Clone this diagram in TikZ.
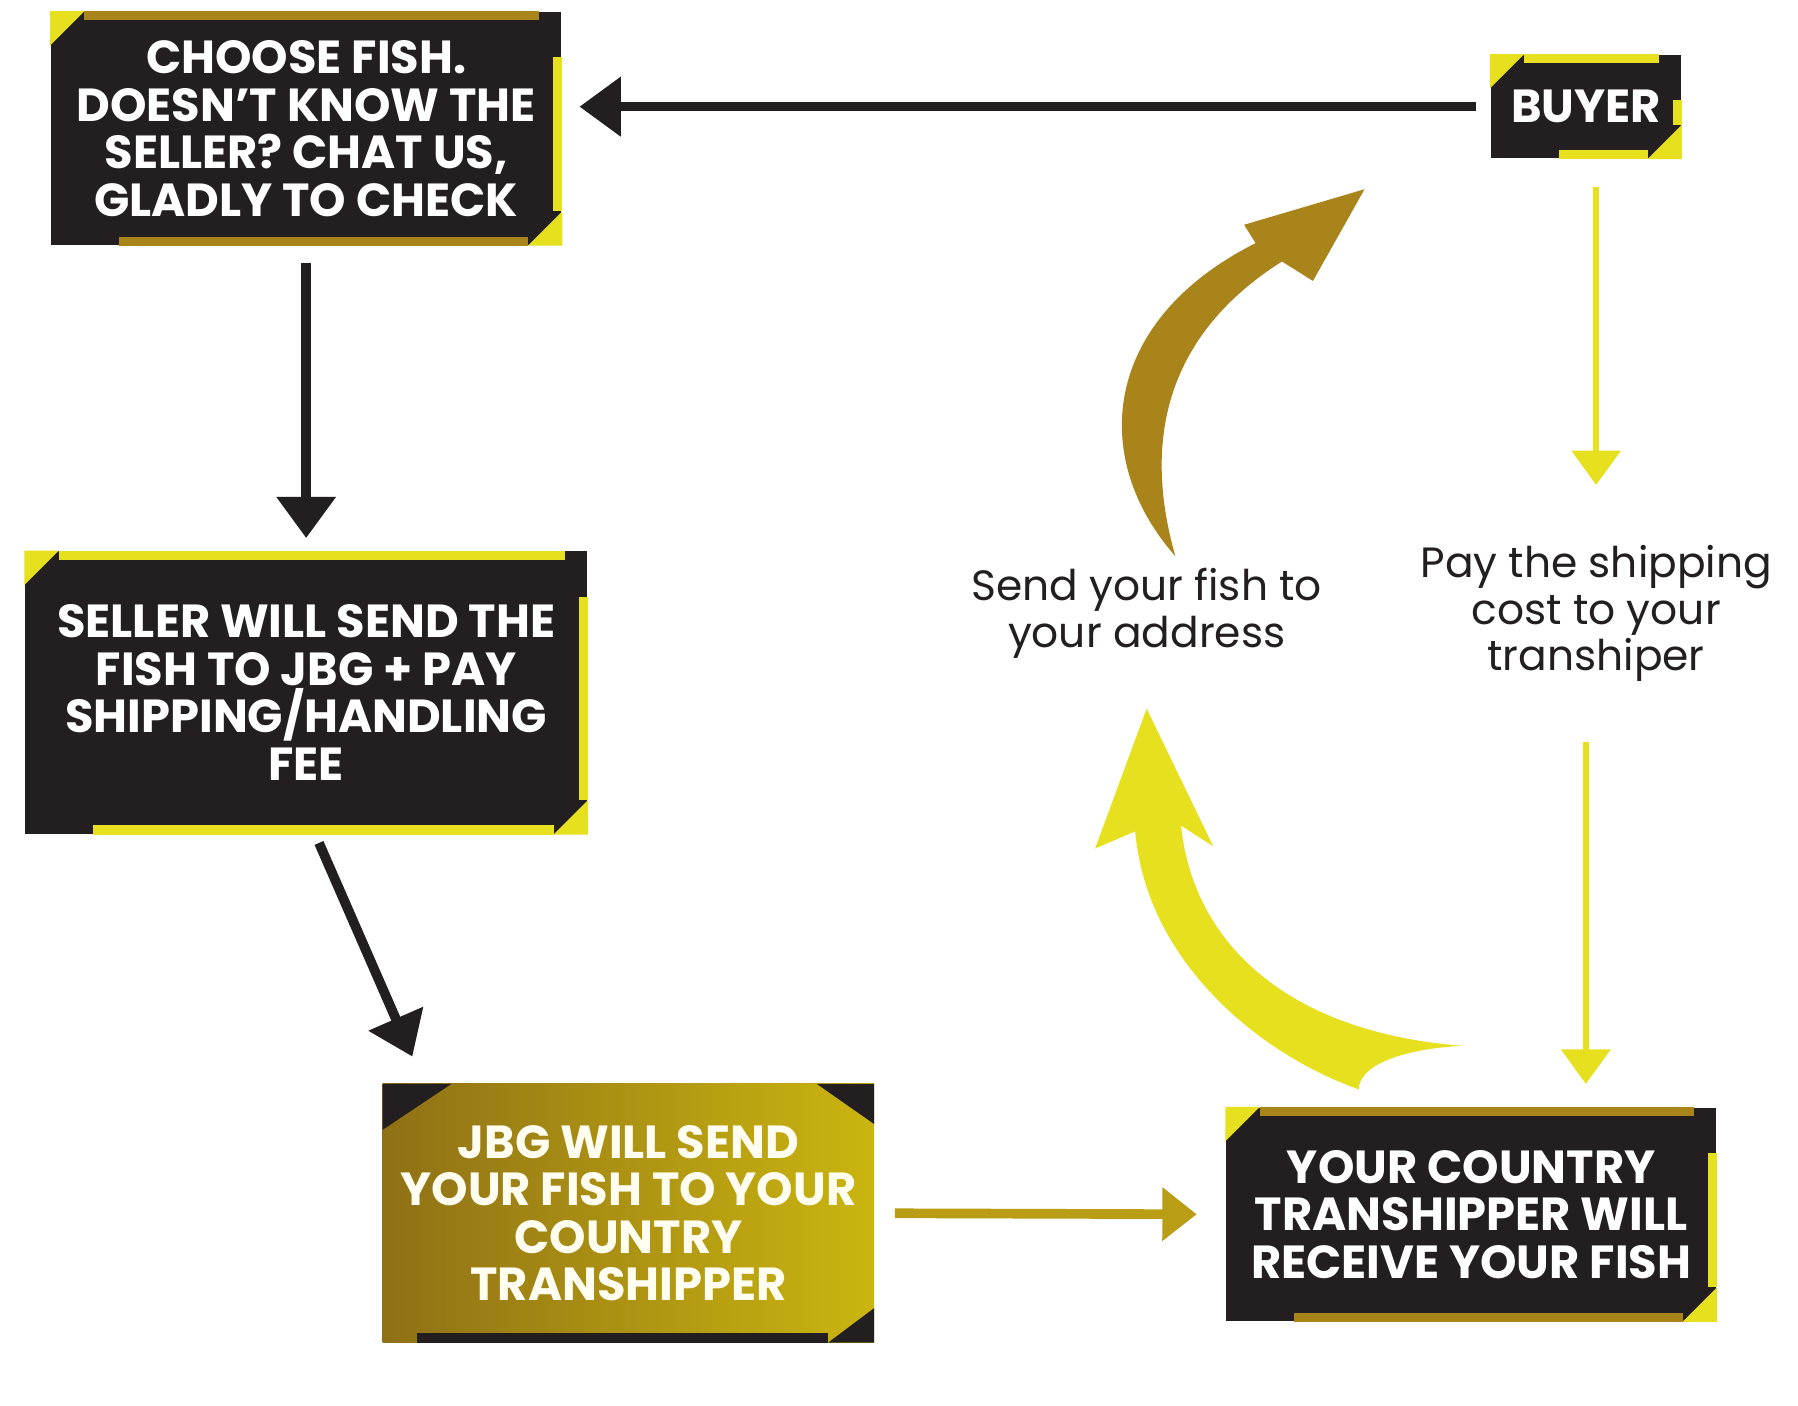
\documentclass[tikz,border=0pt]{standalone}
\usepackage{fontspec}
\setmainfont{Poppins}
\usetikzlibrary{arrows.meta}
\definecolor{fishblack}{HTML}{231F20}
\definecolor{fishyellow}{HTML}{E6E01F}
\definecolor{fishgold}{HTML}{A8841A}
\tikzset{
  fishstep/.style = {fill=fishblack, text=white, align=center, inner sep=0pt,
    font=\fontsize{11.5}{11.8}\selectfont\bfseries},
  note/.style = {align=center, text=fishblack, font=\fontsize{10.5}{11.6}\selectfont},
  flow/.style = {line width=2.4pt, draw=fishblack, -{Triangle[length=0.36cm,width=0.5cm]}},
  lightflow/.style = {line width=1.6pt, draw=fishyellow, -{Triangle[length=0.3cm,width=0.42cm]}}
}
% corner marks of a step box
\newcommand{\boxcorners}[2]{
  \fill [fishyellow] (#1.north west) -- ++(30,0) -- ++(-30,30) -- cycle;
  \fill [#2] ([shift={(30,0)}]#1.north west) rectangle ([shift={(-20,8)}]#1.north east);
  \fill [fishyellow] (#1.south east) -- ++(-30,0) -- ++(30,-30) -- cycle;
  \fill [#2] ([shift={(-30,0)}]#1.south east) rectangle ([shift={(60,-8)}]#1.south west);
  \fill [fishyellow] ([shift={(0,40)}]#1.north east) rectangle ([shift={(-8,-30)}]#1.south east);
}
\begin{document}
\begin{tikzpicture}[x=0.01cm, y=-0.01cm]
	\useasboundingbox [fill=white] (0,0) rectangle (1568,1226);

	\node [fishstep, minimum width=4.45cm, minimum height=2.03cm] (choose) at (267,112)
		{CHOOSE FISH.\\DOESN’T KNOW THE\\SELLER? CHAT US,\\GLADLY TO CHECK};
	\boxcorners{choose}{fishgold}
	\node [fishstep, minimum width=1.66cm, minimum height=0.9cm] (buyer) at (1383,93) {BUYER};
	\boxcorners{buyer}{fishyellow}
	\node [fishstep, minimum width=4.9cm, minimum height=2.46cm] (seller) at (267,604)
		{SELLER WILL SEND THE\\FISH TO JBG + PAY\\SHIPPING/HANDLING\\FEE};
	\boxcorners{seller}{fishyellow}
	\node [fishstep, fill=none, minimum width=4.27cm, minimum height=2.24cm] (jbg) at (548,1058) {};
	\shade [left color=fishgold!85!black, right color=fishgold!60!yellow] (jbg.south west) rectangle (jbg.north east);
	\fill [fishblack] (jbg.north west) -- ++(60,0) -- ++(-60,40) -- cycle;
	\fill [fishblack] (jbg.north east) -- ++(-50,0) -- ++(50,35) -- cycle;
	\fill [fishblack] (jbg.south east) -- ++(-40,0) -- ++(40,-30) -- cycle;
	\fill [fishblack] ([shift={(30,0)}]jbg.south west) rectangle ([shift={(-40,-8)}]jbg.south east);
	\node [fishstep, fill=none, text=white!94!yellow] at (jbg) {JBG WILL SEND\\YOUR FISH TO YOUR\\COUNTRY\\TRANSHIPPER};
	\node [fishstep, minimum width=4.27cm, minimum height=1.86cm] (country) at (1283,1059)
		{YOUR COUNTRY\\TRANSHIPPER WILL\\RECEIVE YOUR FISH};
	\boxcorners{country}{fishgold}

	\node [note] (send) at (1000,535) {Send your fish to\\your address};
	\node [note] (pay) at (1392,535) {Pay the shipping\\cost to your\\transhiper};

	\draw [flow, shorten <=0.12cm, shorten >=0.15cm] (buyer.west) -- (buyer.west -| choose.east);
	\draw [flow, shorten <=0.15cm, shorten >=0.11cm] (choose.south) -- (seller.north);
	\draw [flow, shorten <=0.08cm, shorten >=0.26cm] ([shift={(8,0)}]seller.south) -- ([shift={(-178,0)}]jbg.north);
	\draw [line width=2.4pt, draw=fishgold!80!yellow, -{Triangle[length=0.3cm,width=0.45cm]}, shorten <=0.18cm, shorten >=0.25cm]
		(jbg.east) -- (country.west);
	\draw [lightflow, shorten <=0.24cm, shorten >=0.4cm] (buyer.south -| pay.north) -- (pay.north);
	\draw [lightflow, shorten <=0.4cm, shorten >=0.2cm] ([shift={(-9,0)}]pay.south) -- ([shift={(100,0)}]country.north);

	% curved arrows between the texts
	\fill [fishyellow] (1275,912) .. controls (1120,900) and (1040,820) .. (1030,720)
		-- (1058,738) -- (1000,618) -- (955,740) -- (990,725)
		.. controls (1000,840) and (1100,920) .. (1185,950)
		.. controls (1185,930) and (1220,915) .. cycle;
	\fill [fishgold] (1025,485) .. controls (950,400) and (960,280) .. (1095,212)
		-- (1085,196) -- (1190,165) -- (1145,245) -- (1118,228)
		.. controls (1020,290) and (995,380) .. cycle;
\end{tikzpicture}
\end{document}
